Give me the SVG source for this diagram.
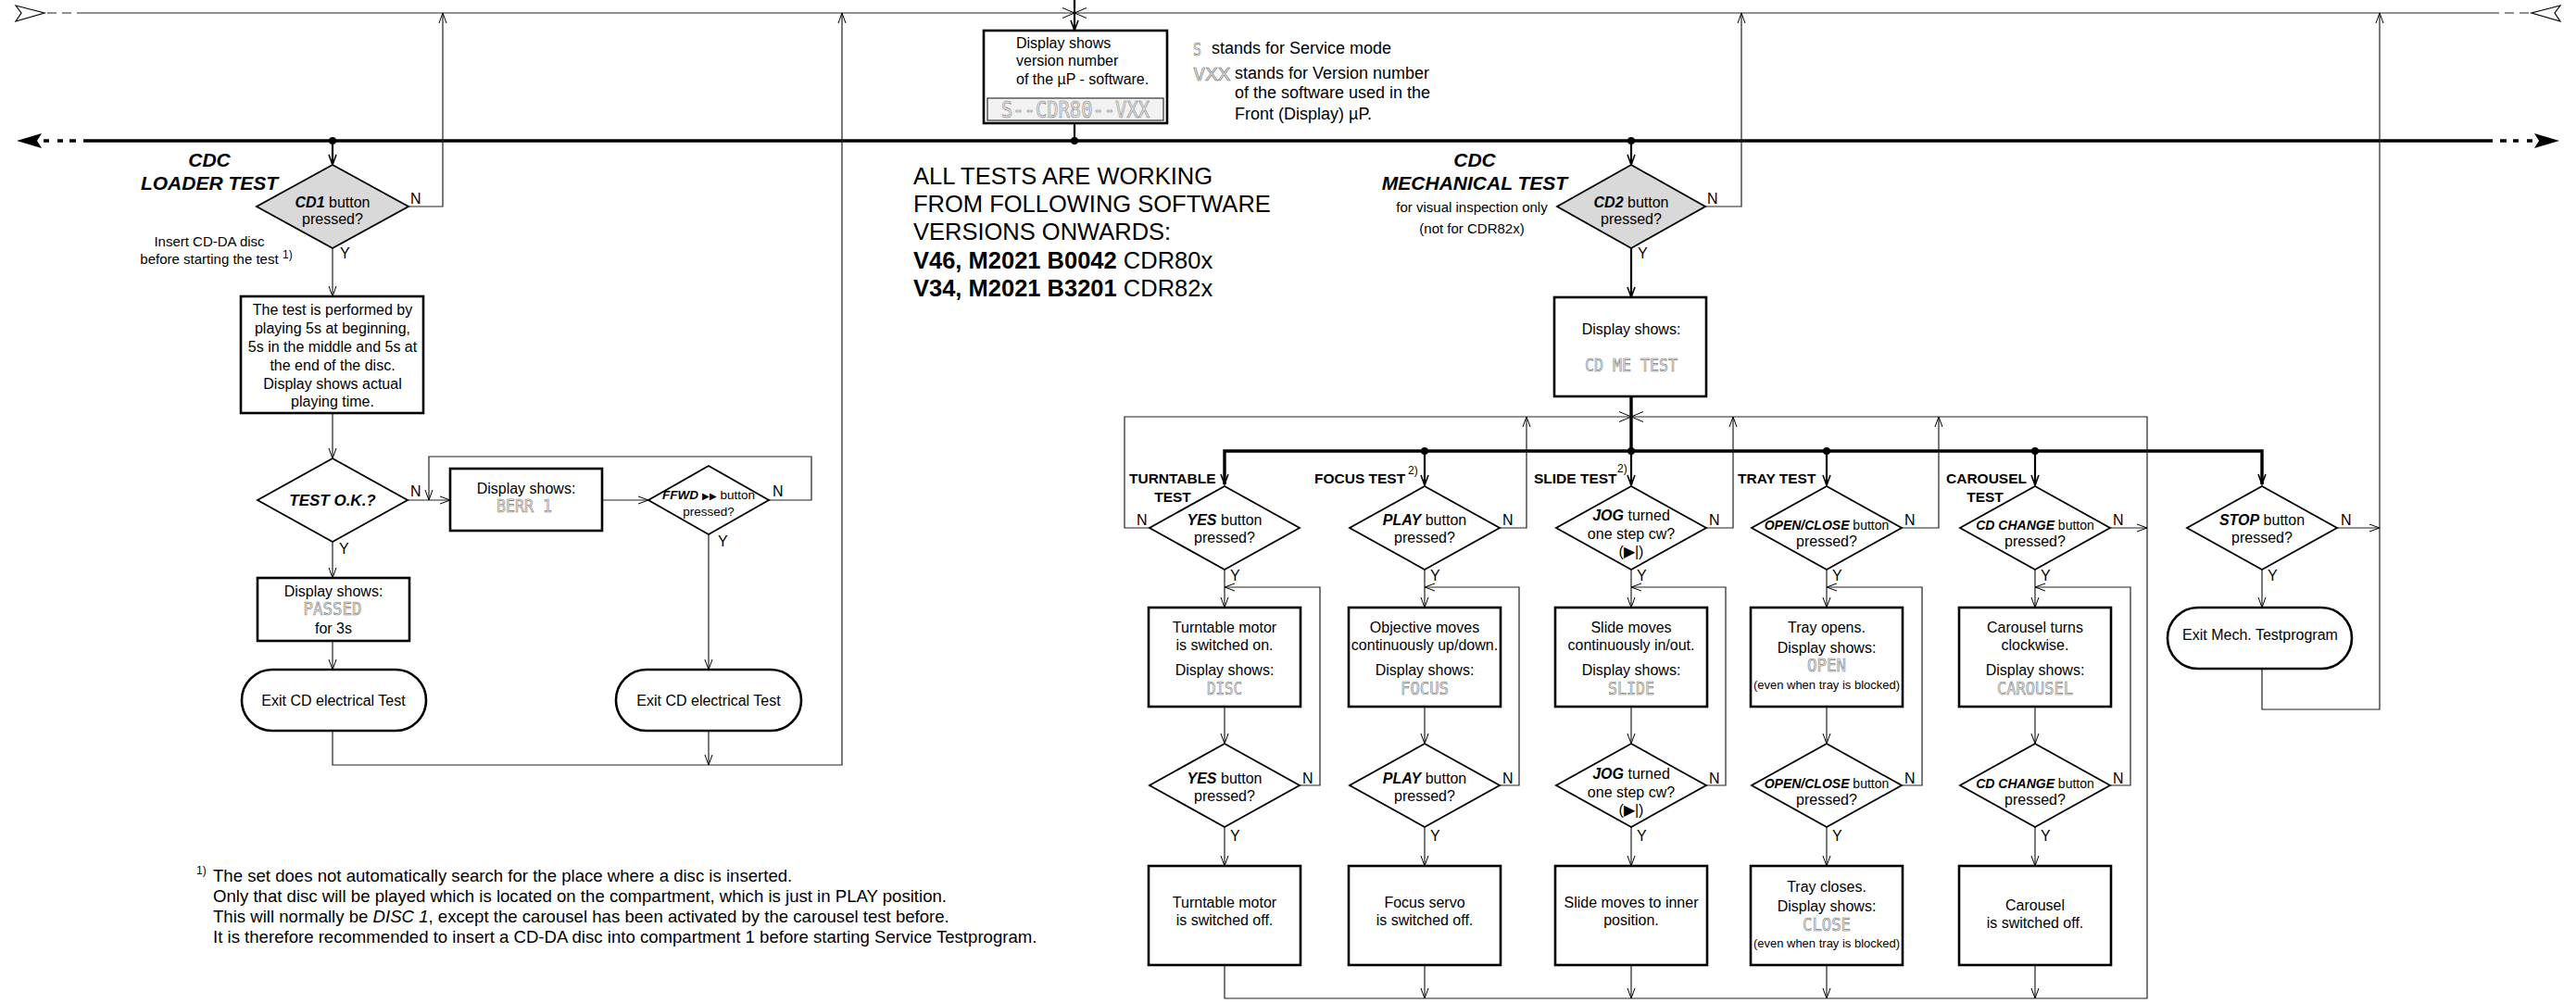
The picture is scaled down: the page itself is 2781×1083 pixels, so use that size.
<svg xmlns="http://www.w3.org/2000/svg" width="2781" height="1083" viewBox="0 0 2781 1083">
<defs>
<style>
text{font-family:"Liberation Sans",Arial,sans-serif;font-size:16px;fill:#000}
.m{text-anchor:middle}
.bi{font-weight:bold;font-style:italic}
.b{font-weight:bold}
.i{font-style:italic}
.h21{font-size:21px}
.s15{font-size:15px}
.s14{font-size:14px}
.s13{font-size:13px}
.s18{font-size:18px}
.fn{font-size:18.6px}
.big{font-size:25.5px}
.hd{font-size:15.5px;font-weight:bold}
.sup{font-size:12px}
.lcd{font-family:"DejaVu Sans Mono",monospace;font-size:19px;fill:#e6e6e6;stroke:#7a7a7a;stroke-width:0.6px}
.ln{fill:none;stroke:#222;stroke-width:1.2}
.lb{fill:none;stroke:#000;stroke-width:2.2}
.bar{fill:none;stroke:#000;stroke-width:3.4}
.box{fill:#fff;stroke:#000;stroke-width:2.6}
.dia{fill:#fff;stroke:#000;stroke-width:1.8}
.g{fill:#d9d9d9}
.dot{fill:#000}
</style>
<marker id="a" markerUnits="userSpaceOnUse" viewBox="-1 -1 14 10" markerWidth="14" markerHeight="10" refX="11" refY="4" orient="auto"><path d="M0,0 L11,4 L0,8" fill="none" stroke="#000" stroke-width="1"/></marker>
<marker id="ab" markerUnits="userSpaceOnUse" viewBox="-1 -1 14 10" markerWidth="14" markerHeight="10" refX="11" refY="4" orient="auto"><path d="M0,0 L11,4 L0,8" fill="none" stroke="#000" stroke-width="1.6"/></marker>
<marker id="ax" markerUnits="userSpaceOnUse" viewBox="-1 -1 16 13" markerWidth="16" markerHeight="13" refX="13" refY="5.5" orient="auto"><path d="M0,0 L13,5.5 L0,11" fill="none" stroke="#000" stroke-width="1"/></marker>
</defs>
<rect x="0" y="0" width="2781" height="1083" fill="#fff"/>

<g id="connectors">
  <path class="ln" d="M83,14 H1160" marker-end="url(#ax)"/>
  <path class="ln" d="M2698,14 H1160" marker-end="url(#ax)"/>
  <path class="ln" d="M51,14 H61 M67,14 H77 M2704,14 H2714 M2720,14 H2730"/>
  <path d="M17,6 L48,14 L17,23 L23,14 Z" fill="#fff" stroke="#000" stroke-width="1.2"/>
  <path d="M2764,6 L2733,14 L2764,23 L2758,14 Z" fill="#fff" stroke="#000" stroke-width="1.2"/>
  <path class="lb" d="M1160,0 V33" marker-end="url(#ab)"/>
  <path class="lb" d="M1160,133 V152"/>
  <path class="bar" d="M90,152 H2691"/>
  <path class="bar" d="M47,152 H53 M62,152 H68 M75,152 H82 M2699,152 H2706 M2713,152 H2719 M2728,152 H2734"/>
  <path d="M18,152 L45,144 L40,152 L45,160 Z" fill="#000"/>
  <path d="M2763,152 L2736,144 L2741,152 L2736,160 Z" fill="#000"/>
  <circle class="dot" cx="359" cy="152" r="4"/>
  <circle class="dot" cx="1160" cy="152" r="4"/>
  <circle class="dot" cx="1761" cy="152" r="4"/>

  <path class="lb" d="M359,152 V178" marker-end="url(#ab)"/>
  <path class="ln" d="M359,268 V320" marker-end="url(#a)"/>
  <path class="ln" d="M441,223 H478 V14" marker-end="url(#a)"/>
  <path class="ln" d="M359,446 V495" marker-end="url(#a)"/>
  <path class="ln" d="M440,540 H486" marker-end="url(#a)"/>
  <path class="ln" d="M830,540 H876 V493 H463 V540" marker-end="url(#a)"/>
  <path class="ln" d="M650,540 H700" marker-end="url(#a)"/>
  <path class="ln" d="M359,585 V624" marker-end="url(#a)"/>
  <path class="ln" d="M359,692 V723" marker-end="url(#a)"/>
  <path class="ln" d="M765,577 V723" marker-end="url(#a)"/>
  <path class="ln" d="M359,789 V826 H909 V14" marker-end="url(#a)"/>
  <path class="ln" d="M765,789 V826" marker-end="url(#a)"/>
  <text x="443" y="220">N</text>
  <text x="367" y="279">Y</text>
  <text x="443" y="536">N</text>
  <text x="366" y="598">Y</text>
  <text x="834" y="536">N</text>
  <text x="775" y="590">Y</text>

  <path class="lb" d="M1761,152 V178" marker-end="url(#ab)"/>
  <path class="lb" d="M1761,268 V321" marker-end="url(#ab)"/>
  <path class="ln" d="M1841,223 H1880 V14" marker-end="url(#a)"/>
  <text x="1843" y="220">N</text>
  <text x="1768" y="279">Y</text>
  <path class="bar" d="M1761,428 V487"/>
  <path class="bar" d="M1761,487 H1322 V523" marker-end="url(#ab)"/>
  <path class="bar" d="M1761,487 H2442 V523" marker-end="url(#ab)"/>
  <path class="lb" d="M1538,487 V524" marker-end="url(#ab)"/>
  <path class="lb" d="M1761,487 V524" marker-end="url(#ab)"/>
  <path class="lb" d="M1972,487 V524" marker-end="url(#ab)"/>
  <path class="lb" d="M2197,487 V524" marker-end="url(#ab)"/>
  <circle class="dot" cx="1538" cy="487" r="4"/>
  <circle class="dot" cx="1761" cy="487" r="4"/>
  <circle class="dot" cx="1972" cy="487" r="4"/>
  <circle class="dot" cx="2197" cy="487" r="4"/>

  <path class="ln" d="M1241,570 H1214 V450 H1761" marker-end="url(#ax)"/>
  <path class="ln" d="M1322,1042 V1078 H2318 V450 H1761" marker-end="url(#ax)"/>
  <path class="ln" d="M1619,570 H1648 V450" marker-end="url(#a)"/>
  <path class="ln" d="M1842,570 H1871 V450" marker-end="url(#a)"/>
  <path class="ln" d="M2053,570 H2093 V450" marker-end="url(#a)"/>
  <path class="ln" d="M2278,570 H2318" marker-end="url(#a)"/>
  <path class="ln" d="M2523,570 H2569" marker-end="url(#a)"/>
  <path class="ln" d="M2442,615 V656" marker-end="url(#a)"/>
  <path class="ln" d="M2442,722 V766 H2569 V14" marker-end="url(#a)"/>

  <path class="ln" d="M1322,615 V656" marker-end="url(#a)"/>
  <path class="ln" d="M1538,615 V656" marker-end="url(#a)"/>
  <path class="ln" d="M1761,615 V656" marker-end="url(#a)"/>
  <path class="ln" d="M1972,615 V656" marker-end="url(#a)"/>
  <path class="ln" d="M2197,615 V656" marker-end="url(#a)"/>

  <path class="ln" d="M1403,848 H1425 V634 H1322" marker-end="url(#a)"/>
  <path class="ln" d="M1619,848 H1640 V634 H1538" marker-end="url(#a)"/>
  <path class="ln" d="M1842,848 H1863 V634 H1761" marker-end="url(#a)"/>
  <path class="ln" d="M2053,848 H2075 V634 H1972" marker-end="url(#a)"/>
  <path class="ln" d="M2278,848 H2300 V634 H2197" marker-end="url(#a)"/>

  <path class="ln" d="M1322,763 V803" marker-end="url(#a)"/>
  <path class="ln" d="M1538,763 V803" marker-end="url(#a)"/>
  <path class="ln" d="M1761,763 V803" marker-end="url(#a)"/>
  <path class="ln" d="M1972,763 V803" marker-end="url(#a)"/>
  <path class="ln" d="M2197,763 V803" marker-end="url(#a)"/>

  <path class="ln" d="M1322,893 V935" marker-end="url(#a)"/>
  <path class="ln" d="M1538,893 V935" marker-end="url(#a)"/>
  <path class="ln" d="M1761,893 V935" marker-end="url(#a)"/>
  <path class="ln" d="M1972,893 V935" marker-end="url(#a)"/>
  <path class="ln" d="M2197,893 V935" marker-end="url(#a)"/>

  <path class="ln" d="M1538,1042 V1078" marker-end="url(#a)"/>
  <path class="ln" d="M1761,1042 V1078" marker-end="url(#a)"/>
  <path class="ln" d="M1972,1042 V1078" marker-end="url(#a)"/>
  <path class="ln" d="M2197,1042 V1078" marker-end="url(#a)"/>

  <text x="1227" y="567">N</text>
  <text x="1622" y="567">N</text>
  <text x="1845" y="567">N</text>
  <text x="2056" y="567">N</text>
  <text x="2281" y="567">N</text>
  <text x="2527" y="567">N</text>
  <text x="1328" y="627">Y</text>
  <text x="1544" y="627">Y</text>
  <text x="1767" y="627">Y</text>
  <text x="1978" y="627">Y</text>
  <text x="2203" y="627">Y</text>
  <text x="2448" y="627">Y</text>
  <text x="1406" y="846">N</text>
  <text x="1622" y="846">N</text>
  <text x="1845" y="846">N</text>
  <text x="2056" y="846">N</text>
  <text x="2281" y="846">N</text>
  <text x="1328" y="908">Y</text>
  <text x="1544" y="908">Y</text>
  <text x="1767" y="908">Y</text>
  <text x="1978" y="908">Y</text>
  <text x="2203" y="908">Y</text>
</g>

<g id="version-box">
  <rect class="box" x="1062" y="33" width="198" height="100"/>
  <text x="1097" y="52">Display shows</text>
  <text x="1097" y="71">version number</text>
  <text x="1097" y="91">of the µP - software.</text>
  <rect x="1066" y="106" width="190" height="24" fill="#f2f2f2" stroke="#333" stroke-width="1.2"/>
  <text class="lcd m" x="1161" y="127" style="font-size:25px" textLength="160" lengthAdjust="spacingAndGlyphs">S--CDR80--VXX</text>
</g>

<g id="legend">
  <text class="lcd" x="1288" y="60" textLength="9" lengthAdjust="spacingAndGlyphs">S</text>
  <text class="s18" x="1308" y="58">stands for Service mode</text>
  <text class="lcd" x="1288" y="87" textLength="40" lengthAdjust="spacingAndGlyphs">VXX</text>
  <text class="s18" x="1333" y="85">stands for Version number</text>
  <text class="s18" x="1333" y="106">of the software used in the</text>
  <text class="s18" x="1333" y="129">Front (Display) µP.</text>
</g>

<g id="software-note">
  <text class="big" x="986" y="199">ALL TESTS ARE WORKING</text>
  <text class="big" x="986" y="229">FROM FOLLOWING SOFTWARE</text>
  <text class="big" x="986" y="259">VERSIONS ONWARDS:</text>
  <text class="big" x="986" y="290"><tspan class="b">V46, M2021 B0042</tspan> CDR80x</text>
  <text class="big" x="986" y="320"><tspan class="b">V34, M2021 B3201</tspan> CDR82x</text>
</g>

<g id="loader-title">
  <text class="bi h21 m" x="226" y="180">CDC</text>
  <text class="bi h21 m" x="226" y="205">LOADER TEST</text>
  <text class="s15 m" x="226" y="266">Insert CD-DA disc</text>
  <text class="s15 m" x="226" y="285">before starting the test</text>
  <text class="sup" x="305" y="279">1)</text>
</g>

<g id="cd1-decision">
  <polygon class="dia g" points="359,178 441,223 359,268 277,223"/>
  <text class="m" x="359" y="224"><tspan class="bi">CD1</tspan> button</text>
  <text class="m" x="359" y="242">pressed?</text>
</g>

<g id="loader-play-box">
  <rect class="box" x="260" y="320" width="197" height="126"/>
  <text class="m" x="359" y="340">The test is performed by</text>
  <text class="m" x="359" y="360">playing 5s at beginning,</text>
  <text class="m" x="359" y="380">5s in the middle and 5s at</text>
  <text class="m" x="359" y="400">the end of the disc.</text>
  <text class="m" x="359" y="420">Display shows actual</text>
  <text class="m" x="359" y="439">playing time.</text>
</g>

<g id="test-ok-decision">
  <polygon class="dia" points="359,495 440,540 359,585 278,540"/>
  <text class="bi m" x="359" y="546" style="font-size:17px">TEST O.K.?</text>
</g>

<g id="berr-box">
  <rect class="box" x="486" y="506" width="164" height="67"/>
  <text class="m" x="568" y="533">Display shows:</text>
  <text class="lcd m" x="566" y="553" textLength="60" lengthAdjust="spacingAndGlyphs">BERR 1</text>
</g>

<g id="ffwd-decision">
  <polygon class="dia" points="765,503 830,540 765,577 700,540"/>
  <text class="m" x="765" y="539" style="font-size:13.5px"><tspan class="bi">FFWD</tspan> <tspan style="font-size:10px">▶▶</tspan> button</text>
  <text class="m" x="765" y="557" style="font-size:13.5px">pressed?</text>
</g>

<g id="passed-box">
  <rect class="box" x="278" y="624" width="164" height="68"/>
  <text class="m" x="360" y="644">Display shows:</text>
  <text class="lcd m" x="359" y="664" textLength="63" lengthAdjust="spacingAndGlyphs">PASSED</text>
  <text class="m" x="360" y="684">for 3s</text>
</g>

<g id="exit-electrical-1">
  <rect class="box" x="261" y="723" width="199" height="66" rx="33" ry="33"/>
  <text class="m" x="360" y="762">Exit CD electrical Test</text>
</g>

<g id="exit-electrical-2">
  <rect class="box" x="665" y="723" width="200" height="66" rx="33" ry="33"/>
  <text class="m" x="765" y="762">Exit CD electrical Test</text>
</g>

<g id="mech-title">
  <text class="bi h21 m" x="1592" y="180">CDC</text>
  <text class="bi h21 m" x="1592" y="205">MECHANICAL TEST</text>
  <text class="s15 m" x="1589" y="229">for visual inspection only</text>
  <text class="s15 m" x="1589" y="252">(not for CDR82x)</text>
</g>

<g id="cd2-decision">
  <polygon class="dia g" points="1761,178 1841,223 1761,268 1681,223"/>
  <text class="m" x="1761" y="224"><tspan class="bi">CD2</tspan> button</text>
  <text class="m" x="1761" y="242">pressed?</text>
</g>

<g id="cd-me-test-box">
  <rect class="box" x="1678" y="321" width="164" height="107"/>
  <text class="m" x="1761" y="361">Display shows:</text>
  <text class="lcd m" x="1761" y="401" textLength="100" lengthAdjust="spacingAndGlyphs">CD ME TEST</text>
</g>

<g id="test-labels">
  <text class="hd" x="1219" y="522">TURNTABLE</text>
  <text class="hd m" x="1266" y="542">TEST</text>
  <text class="hd" x="1419" y="522">FOCUS TEST</text>
  <text class="sup" x="1520" y="512">2)</text>
  <text class="hd" x="1656" y="522">SLIDE TEST</text>
  <text class="sup" x="1746" y="510">2)</text>
  <text class="hd" x="1876" y="522">TRAY TEST</text>
  <text class="hd" x="2101" y="522">CAROUSEL</text>
  <text class="hd m" x="2143" y="542">TEST</text>
</g>

<g id="turntable-yes-1">
  <polygon class="dia" points="1322,525 1403,570 1322,615 1241,570"/>
  <text class="m" x="1322" y="567"><tspan class="bi">YES</tspan> button</text>
  <text class="m" x="1322" y="586">pressed?</text>
</g>
<g id="focus-play-1">
  <polygon class="dia" points="1538,525 1619,570 1538,615 1457,570"/>
  <text class="m" x="1538" y="567"><tspan class="bi">PLAY</tspan> button</text>
  <text class="m" x="1538" y="586">pressed?</text>
</g>
<g id="slide-jog-1">
  <polygon class="dia" points="1761,525 1842,570 1761,615 1680,570"/>
  <text class="m" x="1761" y="562"><tspan class="bi">JOG</tspan> turned</text>
  <text class="m" x="1761" y="582">one step cw?</text>
  <text class="m" x="1761" y="601">(▶|)</text>
</g>
<g id="tray-openclose-1">
  <polygon class="dia" points="1972,525 2053,570 1972,615 1891,570"/>
  <text class="m s14" x="1972" y="572"><tspan class="bi">OPEN/CLOSE</tspan> button</text>
  <text class="m" x="1972" y="590">pressed?</text>
</g>
<g id="carousel-cdchange-1">
  <polygon class="dia" points="2197,525 2278,570 2197,615 2116,570"/>
  <text class="m s14" x="2197" y="572"><tspan class="bi">CD CHANGE</tspan> button</text>
  <text class="m" x="2197" y="590">pressed?</text>
</g>
<g id="stop-decision">
  <polygon class="dia" points="2442,525 2523,570 2442,615 2361,570"/>
  <text class="m" x="2442" y="567"><tspan class="bi">STOP</tspan> button</text>
  <text class="m" x="2442" y="586">pressed?</text>
</g>

<g id="turntable-on-box">
  <rect class="box" x="1240" y="656" width="164" height="107"/>
  <text class="m" x="1322" y="683">Turntable motor</text>
  <text class="m" x="1322" y="702">is switched on.</text>
  <text class="m" x="1322" y="729">Display shows:</text>
  <text class="lcd m" x="1322" y="750" textLength="38" lengthAdjust="spacingAndGlyphs">DISC</text>
</g>
<g id="focus-on-box">
  <rect class="box" x="1456" y="656" width="164" height="107"/>
  <text class="m" x="1538" y="683">Objective moves</text>
  <text class="m" x="1538" y="702">continuously up/down.</text>
  <text class="m" x="1538" y="729">Display shows:</text>
  <text class="lcd m" x="1538" y="750" textLength="52" lengthAdjust="spacingAndGlyphs">FOCUS</text>
</g>
<g id="slide-on-box">
  <rect class="box" x="1679" y="656" width="164" height="107"/>
  <text class="m" x="1761" y="683">Slide moves</text>
  <text class="m" x="1761" y="702">continuously in/out.</text>
  <text class="m" x="1761" y="729">Display shows:</text>
  <text class="lcd m" x="1761" y="750" textLength="50" lengthAdjust="spacingAndGlyphs">SLIDE</text>
</g>
<g id="tray-open-box">
  <rect class="box" x="1890" y="656" width="164" height="107"/>
  <text class="m" x="1972" y="683">Tray opens.</text>
  <text class="m" x="1972" y="705">Display shows:</text>
  <text class="lcd m" x="1972" y="725" textLength="42" lengthAdjust="spacingAndGlyphs">OPEN</text>
  <text class="m s13" x="1972" y="744">(even when tray is blocked)</text>
</g>
<g id="carousel-on-box">
  <rect class="box" x="2115" y="656" width="164" height="107"/>
  <text class="m" x="2197" y="683">Carousel turns</text>
  <text class="m" x="2197" y="702">clockwise.</text>
  <text class="m" x="2197" y="729">Display shows:</text>
  <text class="lcd m" x="2197" y="750" textLength="82" lengthAdjust="spacingAndGlyphs">CAROUSEL</text>
</g>
<g id="exit-mech">
  <rect class="box" x="2340" y="656" width="199" height="66" rx="33" ry="33"/>
  <text class="m" x="2440" y="691">Exit Mech. Testprogram</text>
</g>

<g id="turntable-yes-2">
  <polygon class="dia" points="1322,803 1403,848 1322,893 1241,848"/>
  <text class="m" x="1322" y="846"><tspan class="bi">YES</tspan> button</text>
  <text class="m" x="1322" y="865">pressed?</text>
</g>
<g id="focus-play-2">
  <polygon class="dia" points="1538,803 1619,848 1538,893 1457,848"/>
  <text class="m" x="1538" y="846"><tspan class="bi">PLAY</tspan> button</text>
  <text class="m" x="1538" y="865">pressed?</text>
</g>
<g id="slide-jog-2">
  <polygon class="dia" points="1761,803 1842,848 1761,893 1680,848"/>
  <text class="m" x="1761" y="841"><tspan class="bi">JOG</tspan> turned</text>
  <text class="m" x="1761" y="861">one step cw?</text>
  <text class="m" x="1761" y="880">(▶|)</text>
</g>
<g id="tray-openclose-2">
  <polygon class="dia" points="1972,803 2053,848 1972,893 1891,848"/>
  <text class="m s14" x="1972" y="851"><tspan class="bi">OPEN/CLOSE</tspan> button</text>
  <text class="m" x="1972" y="869">pressed?</text>
</g>
<g id="carousel-cdchange-2">
  <polygon class="dia" points="2197,803 2278,848 2197,893 2116,848"/>
  <text class="m s14" x="2197" y="851"><tspan class="bi">CD CHANGE</tspan> button</text>
  <text class="m" x="2197" y="869">pressed?</text>
</g>

<g id="turntable-off-box">
  <rect class="box" x="1240" y="935" width="164" height="107"/>
  <text class="m" x="1322" y="980">Turntable motor</text>
  <text class="m" x="1322" y="999">is switched off.</text>
</g>
<g id="focus-off-box">
  <rect class="box" x="1456" y="935" width="164" height="107"/>
  <text class="m" x="1538" y="980">Focus servo</text>
  <text class="m" x="1538" y="999">is switched off.</text>
</g>
<g id="slide-off-box">
  <rect class="box" x="1679" y="935" width="164" height="107"/>
  <text class="m" x="1761" y="980">Slide moves to inner</text>
  <text class="m" x="1761" y="999">position.</text>
</g>
<g id="tray-close-box">
  <rect class="box" x="1890" y="935" width="164" height="107"/>
  <text class="m" x="1972" y="963">Tray closes.</text>
  <text class="m" x="1972" y="984">Display shows:</text>
  <text class="lcd m" x="1972" y="1005" textLength="52" lengthAdjust="spacingAndGlyphs">CLOSE</text>
  <text class="m s13" x="1972" y="1023">(even when tray is blocked)</text>
</g>
<g id="carousel-off-box">
  <rect class="box" x="2115" y="935" width="164" height="107"/>
  <text class="m" x="2197" y="983">Carousel</text>
  <text class="m" x="2197" y="1002">is switched off.</text>
</g>

<g id="footnote">
  <text class="sup" x="212" y="944">1)</text>
  <text class="fn" x="230" y="952">The set does not automatically search for the place where a disc is inserted.</text>
  <text class="fn" x="230" y="974">Only that disc will be played which is located on the compartment, which is just in PLAY position.</text>
  <text class="fn" x="230" y="996">This will normally be <tspan class="i">DISC 1</tspan>, except the carousel has been activated by the carousel test before.</text>
  <text class="fn" x="230" y="1018">It is therefore recommended to insert a CD-DA disc into compartment 1 before starting Service Testprogram.</text>
</g>
</svg>
